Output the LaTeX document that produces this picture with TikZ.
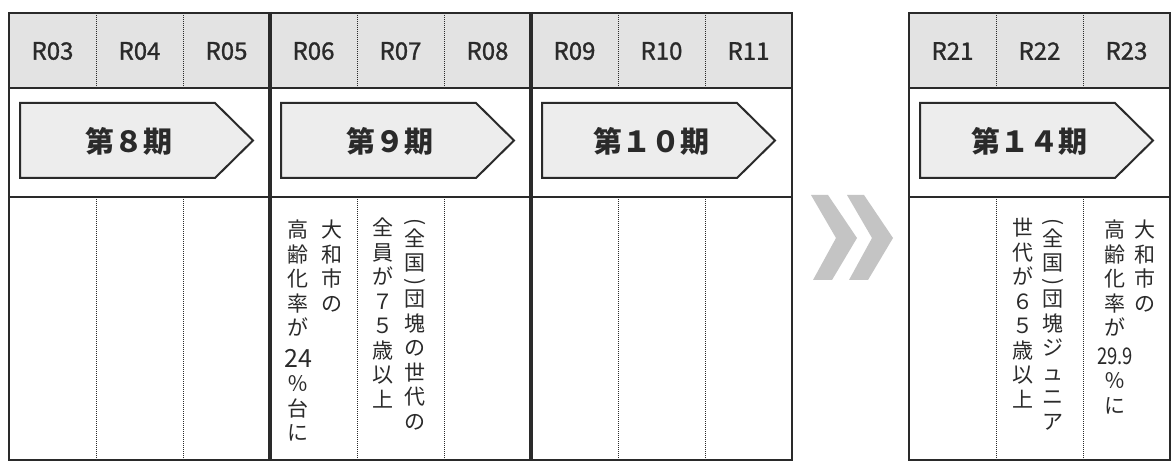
\documentclass[tikz,border=0pt]{standalone}
\usepackage{fontspec}
\usepackage{graphicx}
\newfontfamily\jp{Noto Sans CJK JP}
\newfontfamily\jpm[FakeBold=1.2]{Noto Sans CJK JP}
\newcommand{\vpl}{\rotatebox[origin=c]{-90}{(}}
\newcommand{\vpr}{\rotatebox[origin=c]{-90}{)}}
\definecolor{hdr}{HTML}{E3E3E3}
\definecolor{pentfill}{HTML}{EDEDED}
\definecolor{chevgray}{HTML}{C4C4C4}
\definecolor{ink}{HTML}{2A2A2A}
\tikzset{
  hlab/.style={font=\jpm\fontsize{24}{24}\selectfont, text=ink, inner sep=0},
  plab/.style={font=\jp\bfseries\fontsize{29}{29}\selectfont, text=ink, inner sep=0},
  pent/.style={draw=ink, line width=2pt, fill=pentfill, line join=miter},
  frame/.style={draw=ink, line width=1.8pt},
  thickline/.style={draw=ink, line width=3.2pt},
  sep/.style={draw=ink, line width=1pt, densely dotted},
  vcol/.style={font=\jp\fontsize{21}{24.5}\selectfont, text=ink, align=center, inner sep=0, anchor=north},
  chev/.style={fill=chevgray}
}
\begin{document}
\begin{tikzpicture}[x=1pt,y=-1pt]
\useasboundingbox (0,0) rectangle (1176,462);
\fill[white] (0,0) rectangle (1176,462);
% header fills
\fill[hdr] (9,13) rectangle (792,88);
\fill[hdr] (909,13) rectangle (1170,88);
% dotted separators
\foreach \x in {96,183,357,444,618,705} {
  \draw[sep] (\x,13) -- (\x,88);
  \draw[sep] (\x,197) -- (\x,460);
}
\foreach \x in {996,1083} {
  \draw[sep] (\x,13) -- (\x,88);
  \draw[sep] (\x,197) -- (\x,460);
}
% frames
\draw[frame] (9,13) rectangle (792,460);
\draw[frame] (9,88) -- (792,88);
\draw[frame] (9,197) -- (792,197);
\draw[frame] (909,13) rectangle (1170,460);
\draw[frame] (909,88) -- (1170,88);
\draw[frame] (909,197) -- (1170,197);
\draw[thickline] (270,12) -- (270,461);
\draw[thickline] (531,12) -- (531,461);
% header labels
\node[hlab] (h03) at (52.5,51) {R03};
\node[hlab] (h04) at (139.5,51) {R04};
\node[hlab] (h05) at (226.5,51) {R05};
\node[hlab] (h06) at (313.5,51) {R06};
\node[hlab] (h07) at (400.5,51) {R07};
\node[hlab] (h08) at (487.5,51) {R08};
\node[hlab] (h09) at (574.5,51) {R09};
\node[hlab] (h10) at (661.5,51) {R10};
\node[hlab] (h11) at (748.5,51) {R11};
\node[hlab] (h21) at (952.5,51) {R21};
\node[hlab] (h22) at (1039.5,51) {R22};
\node[hlab] (h23) at (1126.5,51) {R23};
% period pentagons
\draw[pent] (20,103) -- (215,103) -- (253,140.5) -- (215,178) -- (20,178) -- cycle;
\draw[pent] (281,103) -- (476,103) -- (514,140.5) -- (476,178) -- (281,178) -- cycle;
\draw[pent] (542,103) -- (737,103) -- (775,140.5) -- (737,178) -- (542,178) -- cycle;
\draw[pent] (920,103) -- (1115,103) -- (1153,140.5) -- (1115,178) -- (920,178) -- cycle;
\node[plab] (p8) at (129,141) {第８期};
\node[plab] (p9) at (390,141) {第９期};
\node[plab] (p10) at (651,141) {第１０期};
\node[plab] (p14) at (1029,141) {第１４期};
% double chevron
\fill[chev] (811,195) -- (828,195) -- (857,238) -- (832,280) -- (813,280) -- (836,238) -- cycle;
\fill[chev] (847,195) -- (864,195) -- (893,238) -- (868,280) -- (849,280) -- (872,238) -- cycle;
% vertical texts
\node[vcol] (t06a) at (332,220) {大\\和\\市\\の};
\node[vcol] (t06b) at (298,220) {高\\齢\\化\\率\\が\\[7pt]{\fontsize{25}{25}\selectfont 24}\\％\\台\\に};
\node[vcol] (t07a) at (415,218) {\vpl\\[-6.5pt]全\\国\\[-6.5pt]\vpr\\[-6.5pt]団\\塊\\の\\世\\代\\の};
\node[vcol] (t07b) at (383,218) {全\\員\\が\\７\\５\\歳\\以\\上};
\node[vcol] (t22a) at (1053,218) {\vpl\\[-6.5pt]全\\国\\[-6.5pt]\vpr\\[-6.5pt]団\\塊\\ジ\\ュ\\ニ\\ア};
\node[vcol] (t22b) at (1023,218) {世\\代\\が\\６\\５\\歳\\以\\上};
\node[vcol] (t23a) at (1145,220) {大\\和\\市\\の};
\node[vcol] (t23b) at (1115,220) {高\\齢\\化\\率\\が\\[4pt]\scalebox{0.8}[1]{\fontsize{23}{23}\selectfont 29.9}\\％\\に};
\end{tikzpicture}
\end{document}
